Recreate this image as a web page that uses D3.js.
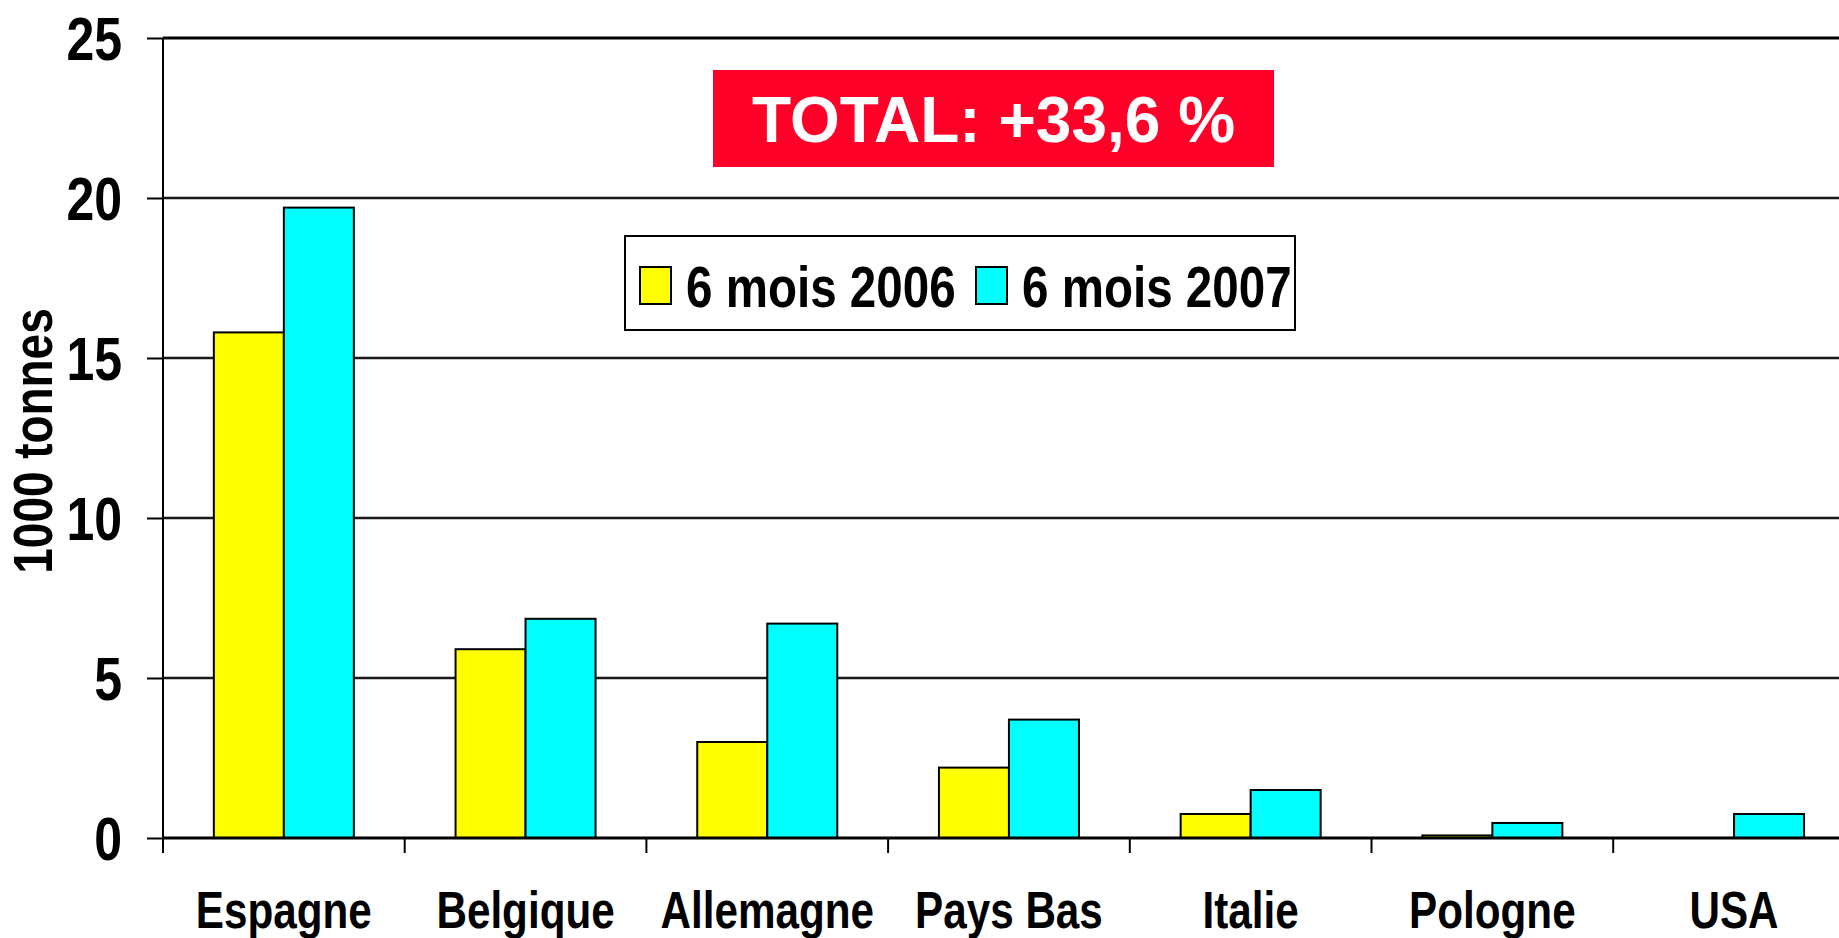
<!DOCTYPE html>
<html>
<head>
<meta charset="utf-8">
<script src="https://cdn.jsdelivr.net/npm/d3@7"></script>
<style>
  html, body { margin: 0; padding: 0; background: #fff; overflow: hidden; }
  text { font-family: "Liberation Sans", Arial, sans-serif; font-weight: bold; }
</style>
</head>
<body>
<div id="chart"></div>
<script>
// data (1000 tonnes)
var countries = ['Espagne', 'Belgique', 'Allemagne', 'Pays Bas', 'Italie', 'Pologne', 'USA'];
var seriesNames = ['6 mois 2006', '6 mois 2007'];
var values2006 = [15.8, 5.9, 3.0, 2.2, 0.75, 0.08, 0];
var values2007 = [19.7, 6.85, 6.7, 3.7, 1.5, 0.47, 0.75];
var yTicks = [0, 5, 10, 15, 20, 25];
var colors = ['#ffff00', '#00ffff'];
var totalLabel = 'TOTAL: +33,6 %';
var yTitle = '1000 tonnes';

var W = 1839, H = 938;
var narrow = 0.82; // condensed look of the original labels

var svg = d3.select('#chart').append('svg')
    .attr('width', W)
    .attr('height', H);

var x = d3.scaleBand()
    .domain(countries)
    .range([163, 163 + 7 * 241.7]);

var xs = d3.scaleBand()
    .domain(seriesNames)
    .range([0, x.bandwidth()])
    .paddingOuter(0.7264);

var y = d3.scaleLinear()
    .domain([0, 25])
    .range([838, 38]);

// gridlines
svg.append('g').selectAll('line')
    .data(yTicks.filter(function(d) { return d > 0; }))
    .enter().append('line')
    .attr('x1', 163).attr('x2', W)
    .attr('y1', function(d) { return y(d); })
    .attr('y2', function(d) { return y(d); })
    .attr('stroke', function(d) { return d === 25 ? '#000' : '#1a1a1a'; })
    .attr('stroke-width', function(d) { return d === 25 ? 3 : 2.5; });

// bars
var rows = countries.map(function(c, i) {
    return { country: c, vals: [values2006[i], values2007[i]] };
});

var groups = svg.append('g').selectAll('g')
    .data(rows)
    .enter().append('g')
    .attr('transform', function(d) { return 'translate(' + x(d.country) + ',0)'; });

groups.selectAll('rect')
    .data(function(d) {
        return d.vals.map(function(v, k) { return { s: seriesNames[k], v: v, k: k }; });
    })
    .enter().append('rect')
    .filter(function(d) { return d.v > 0; })
    .attr('x', function(d) { return xs(d.s); })
    .attr('width', xs.bandwidth())
    .attr('y', function(d) { return y(d.v); })
    .attr('height', function(d) { return y(0) - y(d.v); })
    .attr('fill', function(d) { return colors[d.k]; })
    .attr('stroke', '#000')
    .attr('stroke-width', 2);

// y axis
var yAxis = svg.append('g')
    .attr('transform', 'translate(163,0)')
    .call(d3.axisLeft(y).tickValues(yTicks).tickSize(16).tickPadding(25).tickFormat(d3.format('d')));
yAxis.select('.domain').attr('stroke', '#000').attr('stroke-width', 2)
    .attr('d', 'M0,' + y(25) + 'V' + (y(0) + 15));
yAxis.selectAll('.tick line').attr('stroke', '#000').attr('stroke-width', 2);
yAxis.selectAll('.tick text')
    .attr('x', null).attr('dy', '0.36em')
    .attr('font-size', 61)
    .attr('fill', '#000')
    .attr('transform', 'translate(-41,0) scale(' + narrow + ',1)');

// x axis
var xAxis = svg.append('g')
    .attr('transform', 'translate(0,' + y(0) + ')')
    .call(d3.axisBottom(x).tickSize(0).tickPadding(0));
xAxis.select('.domain').remove();
xAxis.append('line')
    .attr('x1', 163).attr('x2', W)
    .attr('stroke', '#000').attr('stroke-width', 3);
xAxis.selectAll('.boundary')
    .data(countries)
    .enter().append('line')
    .attr('class', 'boundary')
    .attr('x1', function(d) { return x(d); })
    .attr('x2', function(d) { return x(d); })
    .attr('y1', 0).attr('y2', 15)
    .attr('stroke', '#000').attr('stroke-width', 2);
xAxis.selectAll('.tick text')
    .attr('y', null).attr('dy', null)
    .attr('font-size', 51.5)
    .attr('fill', '#000')
    .attr('transform', 'translate(0,90) scale(' + narrow + ',1)');

// y title
svg.append('text')
    .attr('transform', 'translate(52,441) rotate(-90) scale(' + narrow + ',1)')
    .attr('text-anchor', 'middle')
    .attr('font-size', 56)
    .text(yTitle);

// total box
svg.append('rect')
    .attr('x', 713).attr('y', 70)
    .attr('width', 561).attr('height', 97)
    .attr('fill', '#ff0029');
svg.append('text')
    .attr('x', 993.5).attr('y', 142)
    .attr('text-anchor', 'middle')
    .attr('font-size', 64)
    .attr('fill', '#fff')
    .text(totalLabel);

// legend
var legend = svg.append('g');
legend.append('rect')
    .attr('x', 625).attr('y', 236)
    .attr('width', 670).attr('height', 94)
    .attr('fill', '#fff')
    .attr('stroke', '#000').attr('stroke-width', 2);
var legendX = [640, 976];
var items = legend.selectAll('g.item')
    .data(seriesNames)
    .enter().append('g')
    .attr('class', 'item')
    .attr('transform', function(d, i) { return 'translate(' + legendX[i] + ',0)'; });
items.append('rect')
    .attr('x', 0).attr('y', 267)
    .attr('width', 31).attr('height', 37)
    .attr('fill', function(d, i) { return colors[i]; })
    .attr('stroke', '#000').attr('stroke-width', 2);
items.append('text')
    .attr('transform', 'translate(46,307) scale(' + narrow + ',1)')
    .attr('font-size', 58)
    .text(function(d) { return d; });
</script>
</body>
</html>
